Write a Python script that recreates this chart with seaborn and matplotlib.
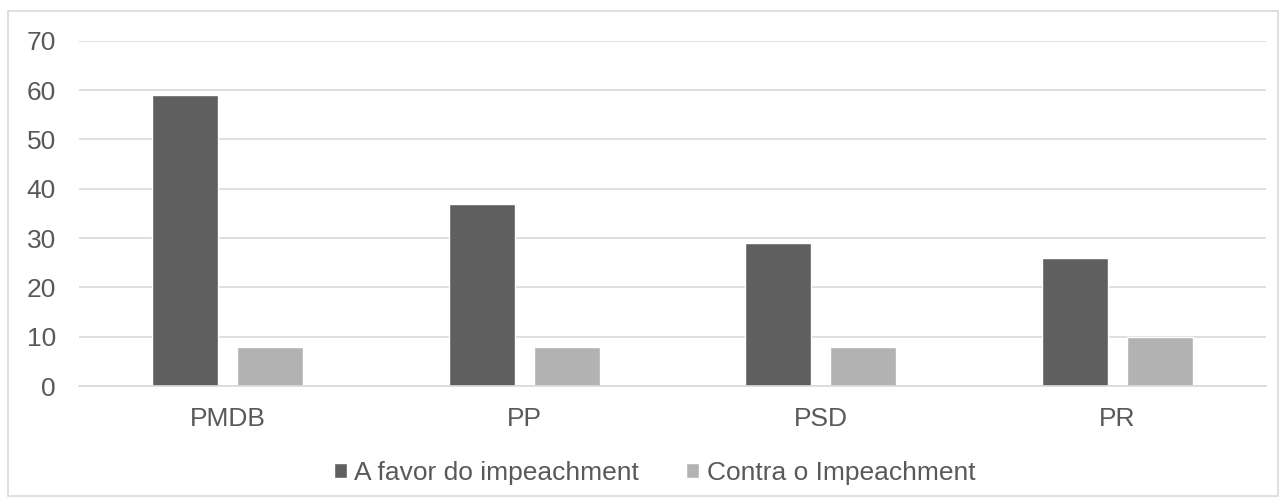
import pandas as pd
import matplotlib.pyplot as plt
import seaborn as sns
from matplotlib.patches import Rectangle

# data
partidos = ["PMDB", "PP", "PSD", "PR"]
a_favor = [59, 37, 29, 26]
contra = [8, 8, 8, 10]
series = ["A favor do impeachment", "Contra o Impeachment"]

df = pd.DataFrame({
    "Partido": partidos * 2,
    "Votos": a_favor + contra,
    "Serie": [series[0]] * len(partidos) + [series[1]] * len(partidos),
})

sns.set_style("white")
plt.rcParams["font.family"] = ["Liberation Sans", "DejaVu Sans"]
txt = "#595959"
fs = 19

fig = plt.figure(figsize=(12.86, 5.04), dpi=100)
ax = fig.add_axes([0.0614, 0.234, 0.923, 0.6853])

sns.barplot(data=df, x="Partido", y="Votos", hue="Serie",
            palette=["#5F5F5F", "#B2B2B2"], width=0.573, gap=0.224,
            ax=ax, legend=True)

ax.set_ylim(0, 70)
ax.set_yticks(range(0, 71, 10))
ax.set_xlim(-0.5, 3.5)
ax.yaxis.grid(True, color="#D9D9D9", linewidth=1.2)
ax.set_axisbelow(True)
for s in ["top", "right", "left"]:
    ax.spines[s].set_visible(False)
ax.spines["bottom"].set_color("#D9D9D9")
ax.spines["bottom"].set_linewidth(1.2)
ax.tick_params(axis="both", length=0, labelsize=fs, labelcolor=txt)
ax.tick_params(axis="y", pad=16.5)
ax.tick_params(axis="x", pad=15)
ax.set_xlabel("")
ax.set_ylabel("")

handles, labels = ax.get_legend_handles_labels()
ax.legend(handles, labels, loc="center", bbox_to_anchor=(0.509, 0.062),
          bbox_transform=fig.transFigure, ncol=2, frameon=False,
          fontsize=fs, labelcolor=txt, handlelength=0.49, handleheight=0.49,
          handletextpad=0.27, columnspacing=1.8)

# outer chart border
fig.patches.append(Rectangle((8 / 1286, 8 / 504), 1270 / 1286, 485 / 504,
                             transform=fig.transFigure, fill=False,
                             edgecolor="#D9D9D9", linewidth=1.2))

fig.savefig("out.png", dpi=100)
